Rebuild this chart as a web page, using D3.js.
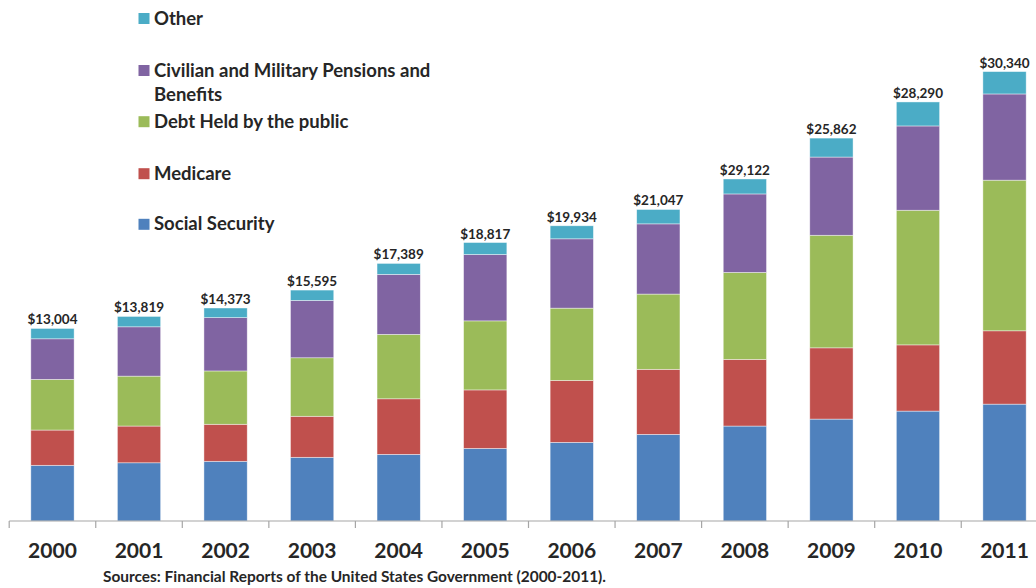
<!DOCTYPE html>
<html>
<head>
<meta charset="utf-8">
<script src="https://cdn.jsdelivr.net/npm/d3@7"></script>
<style>
  body { margin: 0; background: #fff; }
  text { font-family: Lato, "Open Sans", sans-serif; font-weight: bold; fill: #262626; }
</style>
</head>
<body>
<div id="chart"></div>
<script>
// values (dollars)
const years = ["2000", "2001", "2002", "2003", "2004", "2005", "2006", "2007", "2008", "2009", "2010", "2011"];
const socialSecurity = [3760, 3930, 4030, 4300, 4500, 4900, 5310, 5850, 6410, 6880, 7420, 7890];
const medicare = [2380, 2480, 2500, 2770, 3750, 3950, 4180, 4390, 4500, 4810, 4470, 4950];
const debtPublic = [3420, 3370, 3600, 3950, 4350, 4660, 4880, 5080, 5870, 7600, 9090, 10170];
const pensions = [2740, 3330, 3600, 3870, 4050, 4480, 4680, 4740, 5300, 5280, 5690, 5820];
const other = [700, 700, 650, 700, 740, 810, 880, 970, 1010, 1280, 1620, 1510];
const totalLabels = [13004, 13819, 14373, 15595, 17389, 18817, 19934, 21047, 29122, 25862, 28290, 30340];

const keys = ["ss", "med", "debt", "pens", "other"];
const names = {
  ss: ["Social Security"],
  med: ["Medicare"],
  debt: ["Debt Held by the public"],
  pens: ["Civilian and Military Pensions and", "Benefits"],
  other: ["Other"]
};
const colors = { ss: "#4F81BD", med: "#C0504D", debt: "#9BBB59", pens: "#8064A2", other: "#4BACC6" };

const rows = years.map((y, i) => ({
  year: y,
  ss: socialSecurity[i],
  med: medicare[i],
  debt: debtPublic[i],
  pens: pensions[i],
  other: other[i],
  label: totalLabels[i]
}));

const width = 1036,
  height = 588,
  baseY = 521;

const svg = d3.select("#chart").append("svg")
  .attr("width", width)
  .attr("height", height);

const x = d3.scaleBand()
  .domain(years)
  .range([9.2, 9.2 + 12 * 86.55])
  .paddingInner(0.5)
  .paddingOuter(0.25);

const y = d3.scaleLinear()
  .domain([0, 32000])
  .range([baseY, 47]);

const stacked = d3.stack().keys(keys)(rows);

svg.append("g")
  .selectAll("g")
  .data(stacked)
  .join("g")
  .attr("fill", d => colors[d.key])
  .selectAll("rect")
  .data(d => d)
  .join("rect")
  .attr("x", d => x(d.data.year))
  .attr("width", x.bandwidth())
  .attr("y", d => y(d[1]))
  .attr("height", d => y(d[0]) - y(d[1]))
  .attr("stroke", "#ffffff")
  .attr("stroke-opacity", 0.6)
  .attr("stroke-width", 0.7);

// total labels
const fmt = d3.format("$,");
svg.append("g")
  .selectAll("text")
  .data(stacked[stacked.length - 1])
  .join("text")
  .attr("x", d => x(d.data.year) + x.bandwidth() / 2)
  .attr("y", d => y(d[1]) - 4)
  .attr("text-anchor", "middle")
  .style("font-size", "13.5px")
  .text(d => fmt(d.data.label));

// x axis
const axis = svg.append("g")
  .attr("transform", `translate(0,${baseY})`);

axis.append("line")
  .attr("x1", x.range()[0])
  .attr("x2", width)
  .attr("stroke", "#a6a6a6")
  .attr("stroke-width", 1.2);

axis.selectAll("line.tick")
  .data(years)
  .join("line")
  .attr("class", "tick")
  .attr("x1", d => x(d) - x.step() * x.paddingInner() / 2)
  .attr("x2", d => x(d) - x.step() * x.paddingInner() / 2)
  .attr("y1", 0)
  .attr("y2", 7)
  .attr("stroke", "#a6a6a6")
  .attr("stroke-width", 1.2);

axis.selectAll("text")
  .data(years)
  .join("text")
  .attr("x", d => x(d) + x.bandwidth() / 2)
  .attr("y", 37)
  .attr("text-anchor", "middle")
  .style("font-size", "21px")
  .text(d => d);

// legend
const legendY = { other: 18.5, pens: 70.5, debt: 121.7, med: 173.7, ss: 224.3 };
const legend = svg.append("g");
keys.forEach(k => {
  legend.append("rect")
    .attr("x", 138.5)
    .attr("y", legendY[k] - 5.5)
    .attr("width", 11)
    .attr("height", 11)
    .attr("fill", colors[k]);
  names[k].forEach((line, j) => {
    legend.append("text")
      .attr("x", 154)
      .attr("y", legendY[k] + 6 + j * 24)
      .style("font-size", "18.5px")
      .text(line);
  });
});

svg.append("text")
  .attr("x", 103)
  .attr("y", 582)
  .attr("textLength", 503)
  .attr("lengthAdjust", "spacingAndGlyphs")
  .style("font-size", "14.5px")
  .text("Sources: Financial Reports of the United States Government (2000-2011).");
</script>
</body>
</html>
